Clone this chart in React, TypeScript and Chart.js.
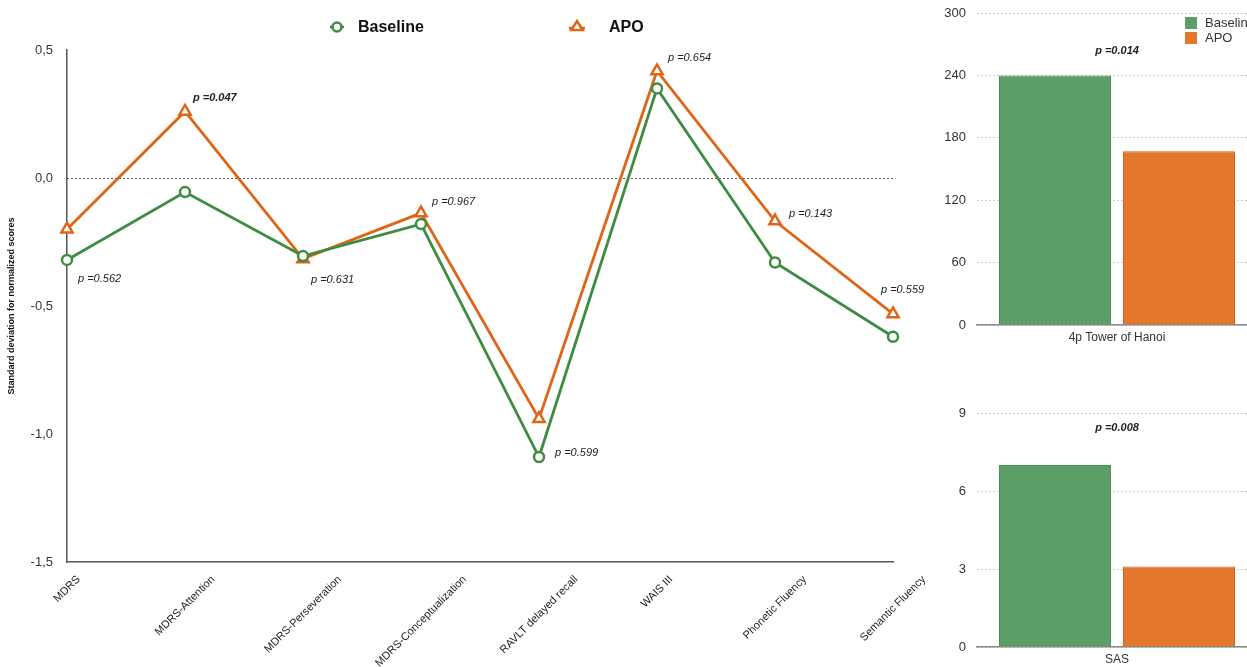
import React, { useEffect, useRef } from "react";
import { Chart, registerables } from "chart.js";

Chart.register(...registerables);

const FONT = "'Liberation Sans', Arial, Helvetica, sans-serif";
Chart.defaults.font.family = FONT;

// ---------- data: line chart ----------
const categories = [
  "MDRS",
  "MDRS-Attention",
  "MDRS-Perseveration",
  "MDRS-Conceptualization",
  "RAVLT delayed recall",
  "WAIS III",
  "Phonetic Fluency",
  "Semantic Fluency",
];
const baselineScores = [-0.32, -0.055, -0.305, -0.18, -1.09, 0.35, -0.33, -0.62];
const apoScores = [-0.2, 0.26, -0.316, -0.137, -0.94, 0.418, -0.168, -0.531];
const pValues = ["0.562", "0.047", "0.631", "0.967", "0.599", "0.654", "0.143", "0.559"];
const pBold = [false, true, false, false, false, false, false, false];
const yMin = -1.5;
const yMax = 0.5;
const yStep = 0.5;

// ---------- data: bar charts ----------
const hanoiLabels = ["4p Tower of Hanoi"];
const hanoiBaseline = [240];
const hanoiApo = [167];
const hanoiP = "0.014";
const hanoiMax = 300;
const hanoiStep = 60;

const sasLabels = ["SAS"];
const sasBaseline = [7];
const sasApo = [3.1];
const sasP = "0.008";
const sasMax = 9;
const sasStep = 3;

const seriesNames = ["Baseline", "APO"];

// ---------- styles ----------
const GREEN = "rgb(61,140,66)";
const ORANGE = "rgb(224,100,24)";
const BAR_GREEN = "rgb(91,158,103)";
const BAR_GREEN_BORDER = "rgb(76,140,88)";
const BAR_ORANGE = "rgb(227,119,43)";
const BAR_ORANGE_BORDER = "rgb(208,100,28)";
const X_TICK_FONT_SIZE = 11;

// placement of the p-value annotations (anchor: which point, dx/dy from it)
const pLabelPlacement = [
  { anchor: "low", dx: 11, dy: 19 },
  { anchor: "high", dx: 8, dy: -13 },
  { anchor: "low", dx: 8, dy: 21 },
  { anchor: "high", dx: 11, dy: -11 },
  { anchor: "low", dx: 16, dy: -4 },
  { anchor: "high", dx: 11, dy: -13 },
  { anchor: "high", dx: 14, dy: -7 },
  { anchor: "high", dx: -12, dy: -24 },
];

function drawTriangle(ctx: CanvasRenderingContext2D, x: number, y: number, r: number) {
  const h = r * 1.5;
  ctx.beginPath();
  ctx.moveTo(x, y - r);
  ctx.lineTo(x + r * 0.95, y + h - r);
  ctx.lineTo(x - r * 0.95, y + h - r);
  ctx.closePath();
}

const mainLegendPlugin = {
  id: "mainLegend",
  afterDraw(chart: any) {
    const ctx: CanvasRenderingContext2D = chart.ctx;
    ctx.save();
    ctx.lineWidth = 2.5;
    // Baseline
    ctx.strokeStyle = GREEN;
    ctx.beginPath();
    ctx.moveTo(330, 27);
    ctx.lineTo(344, 27);
    ctx.stroke();
    ctx.fillStyle = "#fff";
    ctx.beginPath();
    ctx.arc(337, 27, 4.5, 0, Math.PI * 2);
    ctx.fill();
    ctx.stroke();
    // APO
    ctx.strokeStyle = ORANGE;
    ctx.beginPath();
    ctx.moveTo(569, 28);
    ctx.lineTo(585, 28);
    ctx.stroke();
    drawTriangle(ctx, 577, 27, 6);
    ctx.fillStyle = "#fff";
    ctx.fill();
    ctx.stroke();
    ctx.fillStyle = "#111";
    ctx.font = `bold 16px ${FONT}`;
    ctx.textBaseline = "middle";
    ctx.textAlign = "left";
    ctx.fillText(seriesNames[0], 358, 28);
    ctx.fillText(seriesNames[1], 609, 28);
    ctx.restore();
  },
};

const zeroLinePlugin = {
  id: "zeroLine",
  beforeDatasetsDraw(chart: any) {
    const { ctx, chartArea, scales } = chart;
    const y = scales.y.getPixelForValue(0);
    ctx.save();
    ctx.strokeStyle = "#555";
    ctx.lineWidth = 1;
    ctx.setLineDash([2, 2]);
    ctx.beginPath();
    ctx.moveTo(chartArea.left, Math.round(y) + 0.5);
    ctx.lineTo(chartArea.right, Math.round(y) + 0.5);
    ctx.stroke();
    ctx.restore();
  },
};

// the rotated category labels are centred on their tick (not end-anchored)
const centerRotatedLabelsPlugin = {
  id: "centerRotatedLabels",
  beforeDraw(chart: any) {
    const scale = chart.scales.x;
    if (!scale || typeof scale.getLabelItems !== "function") return;
    const items = scale.getLabelItems(chart.chartArea);
    const ctx: CanvasRenderingContext2D = chart.ctx;
    ctx.save();
    ctx.font = `${X_TICK_FONT_SIZE}px ${FONT}`;
    for (const it of items) {
      if (it._centred || !it.options || !it.options.translation) continue;
      const text = Array.isArray(it.label) ? it.label.join(" ") : String(it.label);
      const w = ctx.measureText(text).width;
      it.options.translation[0] += (w * Math.cos(Math.PI / 4)) / 2;
      it._centred = true;
    }
    ctx.restore();
  },
};

const pLabelPlugin = {
  id: "pLabels",
  afterDatasetsDraw(chart: any) {
    const { ctx, scales } = chart;
    ctx.save();
    ctx.fillStyle = "#222";
    ctx.textBaseline = "middle";
    ctx.textAlign = "left";
    pValues.forEach((p, i) => {
      const x = scales.x.getPixelForValue(i);
      const yb = scales.y.getPixelForValue(baselineScores[i]);
      const ya = scales.y.getPixelForValue(apoScores[i]);
      const pl = pLabelPlacement[i];
      const y = pl.anchor === "high" ? Math.min(ya, yb) : Math.max(ya, yb);
      ctx.font = `italic ${pBold[i] ? "bold " : ""}11px ${FONT}`;
      ctx.fillText(`p =${p}`, x + pl.dx, y + pl.dy);
    });
    ctx.restore();
  },
};

function makeBarLegendPlugin() {
  return {
    id: "barLegend",
    afterDraw(chart: any) {
      const ctx: CanvasRenderingContext2D = chart.ctx;
      ctx.save();
      ctx.fillStyle = BAR_GREEN;
      ctx.fillRect(250, 17, 12, 12);
      ctx.fillStyle = BAR_ORANGE;
      ctx.fillRect(250, 32, 12, 12);
      ctx.fillStyle = "#333";
      ctx.font = `13px ${FONT}`;
      ctx.textBaseline = "middle";
      ctx.textAlign = "left";
      ctx.fillText(seriesNames[0], 270, 23);
      ctx.fillText(seriesNames[1], 270, 38);
      ctx.restore();
    },
  };
}

function makeBarPPlugin(p: string, yOffsetFromTop: number) {
  return {
    id: "barP",
    afterDraw(chart: any) {
      const { ctx, chartArea, scales } = chart;
      ctx.save();
      ctx.fillStyle = "#222";
      ctx.font = `italic bold 11px ${FONT}`;
      ctx.textAlign = "center";
      ctx.textBaseline = "middle";
      ctx.fillText(`p =${p}`, scales.x.getPixelForValue(0), chartArea.top + yOffsetFromTop);
      ctx.restore();
    },
  };
}

function lineConfig(): any {
  return {
    type: "line",
    data: {
      labels: categories,
      datasets: [
        {
          label: seriesNames[0],
          data: baselineScores,
          borderColor: GREEN,
          backgroundColor: "#fff",
          borderWidth: 2.8,
          pointStyle: "circle",
          pointRadius: 5,
          pointBorderWidth: 2.5,
          pointBackgroundColor: "#fff",
          pointBorderColor: GREEN,
          tension: 0,
          clip: false,
        },
        {
          label: seriesNames[1],
          data: apoScores,
          borderColor: ORANGE,
          backgroundColor: "#fff",
          borderWidth: 2.8,
          pointStyle: "triangle",
          pointRadius: 6.5,
          pointBorderWidth: 2.5,
          pointBackgroundColor: "#fff",
          pointBorderColor: ORANGE,
          tension: 0,
          clip: false,
        },
      ],
    },
    options: {
      responsive: false,
      animation: false,
      events: [],
      layout: { padding: { top: 50, right: 42, left: 0, bottom: 0 } },
      plugins: { legend: { display: false }, tooltip: { enabled: false } },
      scales: {
        x: {
          offset: false,
          grid: { display: false, drawTicks: true },
          border: { display: true, color: "#555", width: 1.5 },
          ticks: {
            autoSkip: false,
            maxRotation: 45,
            minRotation: 45,
            color: "#222",
            font: { size: X_TICK_FONT_SIZE },
            labelOffset: 0,
          },
          afterFit: (s: any) => {
            s.height = 105;
          },
        },
        y: {
          min: yMin,
          max: yMax,
          grid: { display: false },
          border: { display: true, color: "#555", width: 1.5 },
          ticks: {
            stepSize: yStep,
            color: "#333",
            font: { size: 13 },
            padding: 6,
            callback: (v: number) => v.toFixed(1).replace(".", ","),
          },
          title: {
            display: true,
            text: "Standard deviation for normalized scores",
            color: "#111",
            font: { size: 9, weight: "bold" },
            padding: { top: 6, bottom: 0 },
          },
          afterFit: (s: any) => {
            s.width = 67;
          },
        },
      },
    },
    plugins: [centerRotatedLabelsPlugin, zeroLinePlugin, pLabelPlugin, mainLegendPlugin],
  };
}

function barConfig(
  labels: string[],
  base: number[],
  apo: number[],
  max: number,
  step: number,
  topPad: number,
  xHeight: number,
  p: string,
  pOffset: number,
  withLegend: boolean
): any {
  const plugins: any[] = [makeBarPPlugin(p, pOffset)];
  if (withLegend) plugins.push(makeBarLegendPlugin());
  return {
    type: "bar",
    data: {
      labels,
      datasets: [
        {
          label: seriesNames[0],
          data: base,
          backgroundColor: BAR_GREEN,
          borderColor: BAR_GREEN_BORDER,
          borderWidth: 1,
          categoryPercentage: 0.886,
          barPercentage: 0.903,
        },
        {
          label: seriesNames[1],
          data: apo,
          backgroundColor: BAR_ORANGE,
          borderColor: BAR_ORANGE_BORDER,
          borderWidth: 1,
          categoryPercentage: 0.886,
          barPercentage: 0.903,
        },
      ],
    },
    options: {
      responsive: false,
      animation: false,
      events: [],
      layout: { padding: { top: topPad, right: 0, left: 0, bottom: 0 } },
      plugins: { legend: { display: false }, tooltip: { enabled: false } },
      scales: {
        x: {
          grid: { display: false, drawTicks: false },
          border: { display: true, color: "#888", width: 1.5 },
          ticks: { color: "#333", font: { size: 12 }, padding: 5 },
          afterFit: (s: any) => {
            s.height = xHeight;
          },
        },
        y: {
          min: 0,
          max,
          grid: { color: "rgba(0,0,0,0.2)", drawTicks: false, lineWidth: 1 },
          border: { display: false, dash: [2, 2] },
          ticks: { stepSize: step, color: "#333", font: { size: 13 }, padding: 11 },
          afterFit: (s: any) => {
            s.width = 42;
            s.paddingTop = 0;
            s.paddingBottom = 0;
          },
        },
      },
    },
    plugins,
  };
}

function ChartCanvas({
  width,
  height,
  style,
  makeConfig,
}: {
  width: number;
  height: number;
  style: React.CSSProperties;
  makeConfig: () => any;
}) {
  const ref = useRef<HTMLCanvasElement | null>(null);
  useEffect(() => {
    if (!ref.current) return;
    const chart = new Chart(ref.current, makeConfig());
    return () => chart.destroy();
  }, []);
  return (
    <canvas
      ref={ref}
      width={width}
      height={height}
      style={{ position: "absolute", width, height, ...style }}
    />
  );
}

export default function App() {
  return (
    <div
      style={{
        position: "absolute",
        left: 0,
        top: 0,
        width: 1247,
        height: 667,
        overflow: "hidden",
        background: "#fff",
      }}
    >
      <ChartCanvas width={935} height={667} style={{ left: 0, top: 0 }} makeConfig={lineConfig} />
      <ChartCanvas
        width={322}
        height={350}
        style={{ left: 935, top: 0 }}
        makeConfig={() =>
          barConfig(hanoiLabels, hanoiBaseline, hanoiApo, hanoiMax, hanoiStep, 13, 25, hanoiP, 38, true)
        }
      />
      <ChartCanvas
        width={322}
        height={317}
        style={{ left: 935, top: 350 }}
        makeConfig={() =>
          barConfig(sasLabels, sasBaseline, sasApo, sasMax, sasStep, 63, 20, sasP, 15, false)
        }
      />
    </div>
  );
}
